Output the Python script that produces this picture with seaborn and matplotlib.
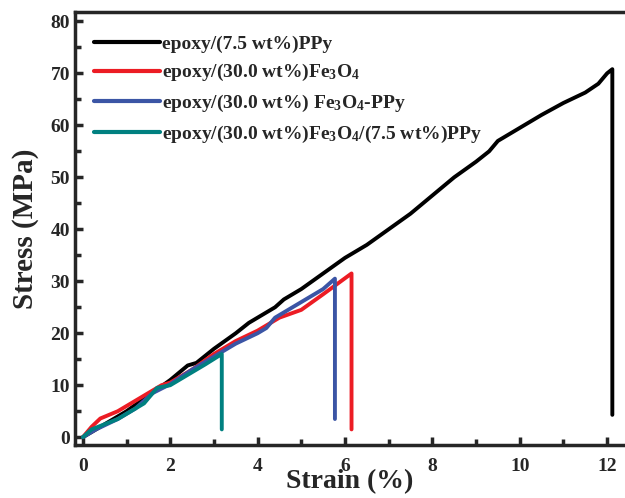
import numpy as np
import pandas as pd
import matplotlib
matplotlib.use("Agg")
import matplotlib.pyplot as plt
import seaborn as sns

labels = [
    'epoxy/(7.5 wt%)PPy',
    r'epoxy/(30.0 wt%)Fe$_3$O$_4$',
    r'epoxy/(30.0 wt%) Fe$_3$O$_4$-PPy',
    r'epoxy/(30.0 wt%)Fe$_3$O$_4$/(7.5 wt%)PPy',
]
colors = ['#000000', '#ec1c24', '#3b55a5', '#008080']

# stress-strain curves
strain_ppy = [0, 0.3, 0.6, 1.0, 1.5, 2.0, 2.4, 2.6, 3.0, 3.5, 3.8, 4.0, 4.4, 4.6, 5.0, 5.5,
              6.0, 6.5, 7.0, 7.5, 8.0, 8.5, 9.0, 9.3, 9.5, 10.0, 10.5, 11.0, 11.5, 11.8, 12.0, 12.12, 12.12]
stress_ppy = [0, 1.5, 3.0, 5.0, 8.0, 11.0, 13.8, 14.3, 17.0, 20.0, 22.0, 23.0, 25.0, 26.5, 28.5, 31.5,
              34.5, 37.0, 40.0, 43.0, 46.5, 50.0, 53.0, 55.0, 57.0, 59.5, 62.0, 64.3, 66.3, 68.0, 70.0, 70.8, 4.3]

strain_fe = [0, 0.2, 0.4, 0.8, 1.2, 1.5, 1.8, 2.0, 2.5, 3.0, 3.5, 4.0, 4.5, 5.0, 5.5, 6.15, 6.15]
stress_fe = [0, 2.0, 3.6, 5.0, 7.0, 8.5, 10.0, 10.5, 13.0, 16.0, 18.5, 20.5, 23.0, 24.5, 27.5, 31.5, 1.5]

strain_fepp = [0, 0.3, 0.8, 1.2, 1.6, 2.0, 2.5, 3.0, 3.5, 4.0, 4.2, 4.4, 5.0, 5.5, 5.77, 5.77]
stress_fepp = [0, 1.5, 3.5, 5.5, 8.5, 10.2, 13.0, 15.5, 18.0, 20.0, 21.0, 23.0, 26.0, 28.5, 30.5, 3.5]

strain_mix = [0, 0.2, 0.5, 0.8, 1.2, 1.4, 1.7, 2.0, 2.5, 2.8, 3.18, 3.18]
stress_mix = [0, 1.5, 2.5, 3.5, 5.5, 6.5, 9.5, 10.0, 12.5, 14.0, 16.0, 1.5]

frames = []
for lab, x, y in zip(labels, [strain_ppy, strain_fe, strain_fepp, strain_mix],
                     [stress_ppy, stress_fe, stress_fepp, stress_mix]):
    frames.append(pd.DataFrame({'Strain': x, 'Stress': y, 'Sample': lab}))
df = pd.concat(frames, ignore_index=True)

sns.set_style('ticks')
plt.rcParams['font.family'] = ['Liberation Serif', 'DejaVu Serif']
plt.rcParams['font.weight'] = 'bold'
plt.rcParams['mathtext.fontset'] = 'custom'
plt.rcParams['mathtext.rm'] = 'Liberation Serif:bold'
plt.rcParams['mathtext.it'] = 'Liberation Serif:bold'
plt.rcParams['mathtext.default'] = 'rm'

fig = plt.figure(figsize=(6.25, 4.98), dpi=100)
ax = fig.add_axes([75 / 625, 53 / 498, 550 / 625, 433 / 498])

sns.lineplot(data=df, x='Strain', y='Stress', hue='Sample', palette=colors,
             sort=False, estimator=None, units='Sample', linewidth=2.8, ax=ax)

ax.set_xlim(-0.18, 12.41)
ax.set_ylim(-1.5, 81.8)
ax.set_xticks([0, 2, 4, 6, 8, 10, 12])
ax.set_xticks(np.arange(1, 12, 2), minor=True)
ax.set_yticks(np.arange(0, 81, 10))
ax.set_yticks(np.arange(5, 80, 10), minor=True)
ax.tick_params(which='both', direction='in', width=2.5, labelsize=14)
ax.tick_params(which='major', length=6)
ax.tick_params(which='minor', length=4)
ax.tick_params(axis='x', pad=9)
for s in ['left', 'bottom', 'top']:
    ax.spines[s].set_linewidth(2.5)
ax.spines['right'].set_visible(False)
for t in ax.get_xticklabels() + ax.get_yticklabels():
    t.set_fontweight('bold')

ax.set_xlabel('Strain (%)', fontsize=20, fontweight='bold', labelpad=-4)
ax.set_ylabel('Stress (MPa)', fontsize=21, fontweight='bold', labelpad=8)

leg = ax.legend(loc='upper left', frameon=False, fontsize=14, handlelength=3.4,
                handletextpad=0.1, labelspacing=0.5, borderaxespad=0.0,
                bbox_to_anchor=(0.02, 0.965))
for line in leg.get_lines():
    line.set_linewidth(3)

fig.savefig('out.png', dpi=100)
